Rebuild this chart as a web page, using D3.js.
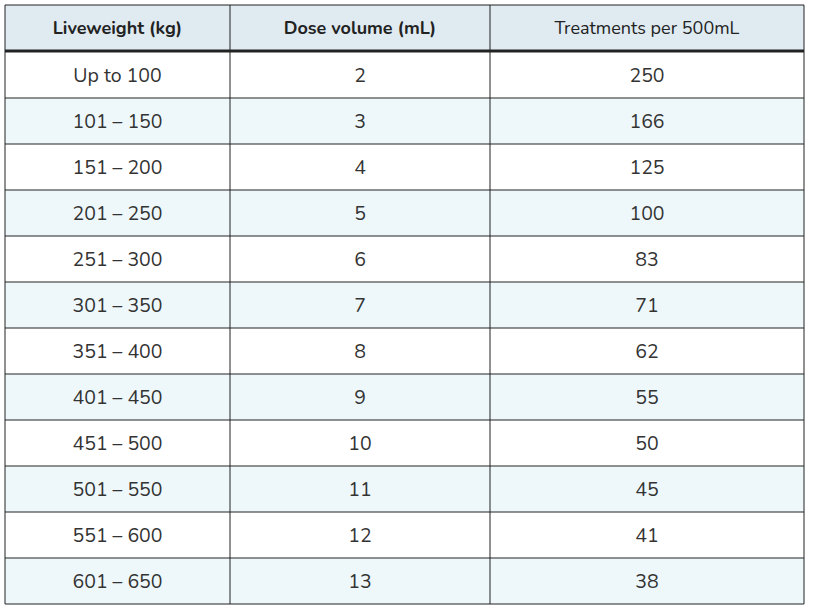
<!DOCTYPE html><html><head><meta charset="utf-8"><script src="https://cdn.jsdelivr.net/npm/d3@7"></script>
<style>body{margin:0;background:#fff}</style></head><body><svg id="c" width="819" height="609"></svg>
<script>
const headers=["Liveweight (kg)","Dose volume (mL)","Treatments per 500mL"];
const headerWeights=["bold","bold","normal"];
const liveweight=["Up to 100","101 – 150","151 – 200","201 – 250","251 – 300","301 – 350","351 – 400","401 – 450","451 – 500","501 – 550","551 – 600","601 – 650"];
const dose=[2,3,4,5,6,7,8,9,10,11,12,13];
const treatments=[250,166,125,100,83,71,62,55,50,45,41,38];
const svg=d3.select("#c");
const colEdges=[5,230,490,804];
const font="Nunito, 'Noto Sans', Lato, sans-serif";
const headTop=5, headBot=51, rowH=46;
const y=d3.scaleLinear().domain([0,12]).range([52,52+12*rowH]);
svg.append("rect").attr("x",5).attr("y",headTop).attr("width",799).attr("height",headBot-headTop).attr("fill","#dfeaf1");
svg.selectAll(".rb").data(liveweight).enter().append("rect").attr("x",5).attr("y",(d,i)=>y(i)).attr("width",799).attr("height",rowH)
 .attr("fill",(d,i)=>i%2?"#eef8fb":"#ffffff");
svg.selectAll(".ht").data(headers).enter().append("text").attr("x",(d,i)=>(colEdges[i]+colEdges[i+1])/2).attr("y",(headTop+headBot)/2+2)
 .attr("text-anchor","middle").attr("dominant-baseline","middle").attr("font-family",font).attr("font-size",18)
 .attr("font-weight",(d,i)=>headerWeights[i]).attr("fill","#222").text(d=>d);
const cols=[liveweight,dose,treatments];
cols.forEach((col,c)=>{
 svg.selectAll(".c"+c).data(col).enter().append("text").attr("x",(colEdges[c]+colEdges[c+1])/2).attr("y",(d,i)=>y(i)+rowH/2+2)
  .attr("text-anchor","middle").attr("dominant-baseline","middle").attr("font-family",font).attr("font-size",19.5)
  .attr("fill","#333").text(d=>d);
});
svg.selectAll(".hl").data(d3.range(1,13)).enter().append("line").attr("x1",5).attr("x2",804)
 .attr("y1",d=>y(d)).attr("y2",d=>y(d)).attr("stroke","#222").attr("stroke-width",1);
svg.append("line").attr("x1",5).attr("x2",804).attr("y1",51).attr("y2",51).attr("stroke","#222").attr("stroke-width",3);
svg.selectAll(".vl").data(colEdges).enter().append("line").attr("x1",d=>d).attr("x2",d=>d).attr("y1",headTop).attr("y2",y(12))
 .attr("stroke","#222").attr("stroke-width",1);
svg.append("line").attr("x1",5).attr("x2",804).attr("y1",headTop).attr("y2",headTop).attr("stroke","#222").attr("stroke-width",1);
</script></body></html>
